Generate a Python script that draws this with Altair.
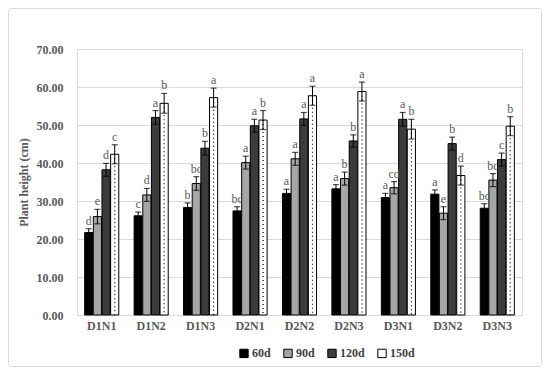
import altair as alt
import pandas as pd

categories = ["D1N1", "D1N2", "D1N3", "D2N1", "D2N2", "D2N3", "D3N1", "D3N2", "D3N3"]
series = ["60d", "90d", "120d", "150d"]

v60 = [21.7, 26.1, 28.3, 27.4, 32.0, 33.2, 30.9, 31.8, 28.1]
v90 = [25.9, 31.6, 34.6, 40.1, 41.1, 35.9, 33.5, 26.8, 35.5]
v120 = [38.2, 52.0, 43.9, 49.8, 51.6, 45.8, 51.5, 45.1, 40.9]
v150 = [42.3, 55.7, 57.2, 51.3, 57.7, 58.8, 48.9, 36.7, 49.7]

e60 = [1.0, 1.0, 1.2, 1.1, 1.1, 1.1, 1.1, 1.1, 1.2]
e90 = [1.9, 1.7, 1.8, 1.7, 1.7, 1.7, 1.6, 1.7, 1.7]
e120 = [1.7, 1.8, 1.8, 1.7, 1.7, 1.6, 1.8, 1.7, 1.7]
e150 = [2.5, 2.6, 2.5, 2.5, 2.5, 2.5, 2.6, 2.5, 2.5]

l60 = ["d", "c", "b", "bc", "a", "a", "a", "a", "bc"]
l90 = ["e", "d", "bc", "a", "a", "b", "cd", "e", "bc"]
l120 = ["d", "a", "b", "a", "a", "b", "a", "b", "c"]
l150 = ["c", "b", "a", "b", "a", "a", "b", "d", "b"]

y_ticks = [0, 10, 20, 30, 40, 50, 60, 70]

colors = ["#000000", "#a6a6a6", "#3c3c3c", "#ffffff"]

rows = []
for s, vals, errs, lets in zip(series, [v60, v90, v120, v150], [e60, e90, e120, e150], [l60, l90, l120, l150]):
    for c, v, e, l in zip(categories, vals, errs, lets):
        rows.append({"cat": c, "series": s, "value": v, "lo": v - e, "hi": v + e, "letter": l, "zero": 0})
df = pd.DataFrame(rows)

W, H = 445, 266
FONT = "Liberation Serif"

x_enc = alt.X("cat:N", sort=categories, title=None,
              scale=alt.Scale(paddingInner=0.31, paddingOuter=0.155),
              axis=alt.Axis(labelFont=FONT, labelFontSize=12, labelFontWeight="bold",
                            labelColor="#595959", labelAngle=0, labelPadding=5,
                            ticks=False, domain=True, domainColor="#d9d9d9", grid=False))
xo_enc = alt.XOffset("series:N", sort=series, scale=alt.Scale(paddingInner=0.06))
y_scale = alt.Scale(domain=[0, 70], nice=False)
y_axis = alt.Axis(values=y_ticks, labelOverlap=False, format=".2f",
                  labelFont=FONT, labelFontSize=12, labelFontWeight="bold",
                  labelColor="#595959", labelPadding=14, ticks=False, domain=False,
                  gridColor="#d9d9d9", gridWidth=1,
                  titleFont=FONT, titleFontSize=12, titleFontWeight="bold",
                  titleColor="#595959", titlePadding=6)
Y_TITLE = "Plant height (cm)"


def yq(field):
    return alt.Y(field, scale=y_scale, axis=y_axis, title=Y_TITLE)


base = alt.Chart(df)

bars = base.mark_bar(stroke="black", strokeWidth=1).encode(
    x=x_enc, xOffset=xo_enc, y=yq("value:Q"),
    fill=alt.Fill("series:N", sort=series, scale=alt.Scale(domain=series, range=colors),
                  legend=alt.Legend(title=None, orient="none", direction="horizontal",
                                    legendX=161, legendY=298,
                                    symbolType="square", symbolSize=70,
                                    symbolStrokeColor="black", symbolStrokeWidth=1,
                                    labelFont=FONT, labelFontSize=12, labelFontWeight="bold",
                                    labelColor="#404040", columnPadding=10, labelOffset=2)),
)

dots = base.transform_filter(alt.datum.series == "150d").mark_rule(
    color="black", strokeWidth=1.2, strokeDash=[1, 3]
).encode(x=x_enc, xOffset=xo_enc, y=yq("value:Q"), y2="zero:Q")

err = base.mark_rule(color="black", strokeWidth=1).encode(
    x=x_enc, xOffset=xo_enc, y=yq("lo:Q"), y2="hi:Q")
cap_hi = base.mark_tick(color="black", thickness=1.2, size=6, orient="horizontal").encode(
    x=x_enc, xOffset=xo_enc, y=yq("hi:Q"))
cap_lo = base.mark_tick(color="black", thickness=1.2, size=6, orient="horizontal").encode(
    x=x_enc, xOffset=xo_enc, y=yq("lo:Q"))

letters = base.mark_text(font=FONT, fontSize=12, color="#595959", baseline="bottom", dy=-1).encode(
    x=x_enc, xOffset=xo_enc, y=yq("hi:Q"), text="letter:N")

frame = alt.Chart(pd.DataFrame({"a": [0]})).mark_rect(
    fill=None, stroke="#d9d9d9", strokeWidth=1, cornerRadius=3
).encode(x=alt.value(-68.5), x2=alt.value(W + 19.5), y=alt.value(-40.5), y2=alt.value(H + 51.5))

chart = alt.layer(frame, bars, dots, err, cap_hi, cap_lo, letters).properties(
    width=W, height=H,
    autosize=alt.AutoSizeParams(type="none"),
    padding={"left": 69, "top": 41, "right": 20, "bottom": 52},
).configure_view(strokeWidth=0).configure(background="white")

chart.save("out.html", embed_options={"renderer": "svg", "actions": False})
